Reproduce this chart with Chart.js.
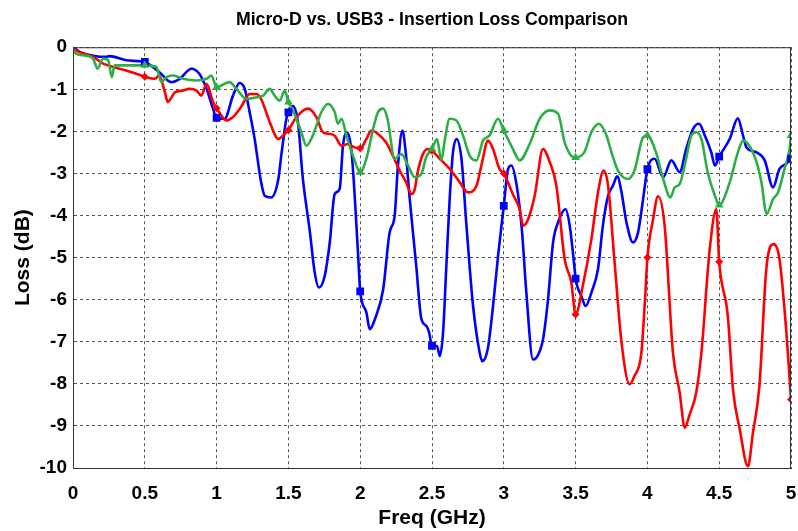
<!DOCTYPE html>
<html>
<head>
<meta charset="utf-8">
<script src="https://cdn.jsdelivr.net/npm/chart.js@4"></script>
<style>
  body { margin: 0; background: #fff; }
  #wrap { width: 798px; height: 531px; }
</style>
</head>
<body>
<div id="wrap"><canvas id="ctx"></canvas></div>
<script>
// blue trace (square markers)
const blueFreq = [0, 0.047, 0.14, 0.23, 0.255, 0.37, 0.45, 0.5, 0.6, 0.685, 0.743, 0.825, 0.88, 0.93, 0.975, 1.0,
  1.056, 1.114, 1.16, 1.196, 1.23, 1.265, 1.31, 1.335, 1.38, 1.43, 1.45, 1.486, 1.5, 1.53, 1.567, 1.6, 1.65, 1.683,
  1.713, 1.753, 1.788, 1.822, 1.857, 1.88, 1.904, 1.94, 1.985, 2.0, 2.043, 2.066, 2.11, 2.16, 2.205, 2.24, 2.263,
  2.294, 2.317, 2.345, 2.39, 2.426, 2.46, 2.48, 2.5, 2.535, 2.554, 2.577, 2.6, 2.623, 2.646, 2.67, 2.705, 2.74,
  2.786, 2.832, 2.85, 2.89, 2.925, 2.96, 3.0, 3.03, 3.053, 3.09, 3.125, 3.157, 3.203, 3.227, 3.273, 3.308, 3.343,
  3.378, 3.43, 3.459, 3.494, 3.5, 3.54, 3.57, 3.61, 3.656, 3.69, 3.726, 3.76, 3.79, 3.82, 3.854, 3.9, 3.935, 3.97,
  4.0, 4.05, 4.11, 4.167, 4.225, 4.27, 4.318, 4.36, 4.4, 4.445, 4.47, 4.5, 4.573, 4.63, 4.666, 4.69, 4.76, 4.817,
  4.875, 4.92, 4.968, 5.0];
const blueLoss = [0, -0.11, -0.2, -0.23, -0.21, -0.31, -0.33, -0.35, -0.59, -0.83, -0.75, -0.51, -0.63, -0.99, -1.46, -1.68,
  -1.7, -1.15, -0.85, -0.99, -1.54, -2.18, -3.21, -3.53, -3.57, -3.13, -2.58, -1.7, -1.55, -1.4, -1.8, -3.1, -4.4, -5.35,
  -5.71, -5.43, -4.64, -3.49, -3.37, -2.34, -2.02, -2.5, -4.9, -5.8, -6.3, -6.7, -6.39, -5.75, -4.4, -4.0, -2.81,
  -1.98, -2.5, -3.61, -5.19, -6.46, -6.62, -6.78, -7.1, -7.1, -7.34, -6.78, -5.19, -3.61, -2.5, -2.18, -2.65, -4.24,
  -6.15, -7.26, -7.46, -7.14, -6.15, -4.96, -3.77, -2.89, -2.81, -3.29, -4.3, -5.83, -7.42, -7.38, -6.94, -5.99, -4.64,
  -4.16, -3.85, -4.24, -5.3, -5.5, -5.91, -6.15, -5.83, -5.27, -4.24, -3.53, -3.29, -3.07, -3.45, -4.16, -4.64, -4.4, -3.61,
  -2.9, -2.65, -3.09, -2.69, -2.97, -2.42, -1.94, -1.82, -2.1, -2.5, -2.81, -2.6, -2.18, -1.69, -2.1, -2.38, -2.5, -2.69,
  -3.33, -2.89, -2.77, -2.65];

// red trace (diamond markers)
const redFreq = [0, 0.07, 0.14, 0.21, 0.28, 0.37, 0.44, 0.5, 0.57, 0.6, 0.64, 0.66, 0.71, 0.766, 0.81, 0.86, 0.894,
  0.93, 0.975, 1.0, 1.07, 1.114, 1.17, 1.23, 1.277, 1.31, 1.37, 1.43, 1.474, 1.5, 1.556, 1.637, 1.695, 1.74, 1.788,
  1.822, 1.87, 1.915, 1.96, 2.0, 2.043, 2.078, 2.124, 2.18, 2.228, 2.275, 2.32, 2.357, 2.38, 2.4, 2.437, 2.47, 2.5,
  2.554, 2.623, 2.693, 2.75, 2.81, 2.844, 2.89, 2.925, 2.97, 3.0, 3.064, 3.11, 3.134, 3.17, 3.215, 3.273, 3.32, 3.366,
  3.424, 3.47, 3.5, 3.55, 3.61, 3.656, 3.695, 3.726, 3.77, 3.82, 3.876, 3.91, 3.958, 3.985, 4.0, 4.04, 4.074, 4.12,
  4.178, 4.225, 4.26, 4.294, 4.34, 4.376, 4.434, 4.48, 4.5, 4.56, 4.596, 4.643, 4.7, 4.735, 4.78, 4.83, 4.88, 4.92,
  4.968, 5.0];
const redLoss = [-0.04, -0.15, -0.23, -0.39, -0.47, -0.55, -0.63, -0.7, -0.75, -0.67, -1.07, -1.3, -1.07, -1.03, -0.99, -1.03, -1.15,
  -0.87, -1.3, -1.45, -1.74, -1.66, -1.42, -1.11, -1.11, -1.23, -1.78, -2.18, -2.06, -1.97, -1.66, -1.46, -1.66, -2.02, -2.06,
  -2.1, -2.34, -2.3, -2.38, -2.4, -2.18, -1.98, -2.06, -2.26, -2.58, -2.93, -3.21, -3.49, -3.37, -2.97, -2.54, -2.42, -2.46,
  -2.65, -2.89, -3.21, -3.45, -3.29, -2.81, -2.22, -2.42, -2.89, -3.0, -3.5, -3.85, -4.24, -4.08, -3.53, -2.42, -2.73, -3.29,
  -5.04, -5.59, -6.35, -5.67, -4.56, -3.45, -2.93, -3.29, -5.04, -7.02, -8.01, -7.81, -7.26, -5.9, -5.0, -4.08, -3.54, -4.24,
  -7.26, -8.21, -9.04, -8.73, -8.21, -7.26, -4.8, -3.85, -5.1, -6.39, -8.13, -9.08, -9.96, -9.16, -8.05, -5.2, -4.68, -5.04,
  -6.78, -8.37];

// green trace (triangle markers)
const greenFreq = [0, 0.02, 0.09, 0.14, 0.17, 0.21, 0.245, 0.27, 0.29, 0.37, 0.5, 0.58, 0.615, 0.65, 0.7, 0.766, 0.86,
  0.93, 0.964, 1.0, 1.09, 1.138, 1.208, 1.277, 1.323, 1.37, 1.404, 1.44, 1.474, 1.5, 1.544, 1.59, 1.625, 1.67, 1.73,
  1.776, 1.822, 1.845, 1.87, 1.904, 1.95, 2.0, 2.043, 2.09, 2.124, 2.16, 2.19, 2.24, 2.287, 2.333, 2.38, 2.426, 2.46,
  2.5, 2.535, 2.565, 2.59, 2.623, 2.67, 2.716, 2.763, 2.81, 2.855, 2.9, 2.96, 3.0, 3.064, 3.11, 3.18, 3.25, 3.32, 3.378,
  3.424, 3.47, 3.5, 3.56, 3.61, 3.663, 3.715, 3.75, 3.795, 3.865, 3.91, 3.97, 4.0, 4.06, 4.11, 4.16, 4.19, 4.225, 4.27,
  4.306, 4.34, 4.376, 4.42, 4.47, 4.5, 4.573, 4.63, 4.666, 4.71, 4.76, 4.794, 4.83, 4.875, 4.91, 4.955, 4.99, 5.0];
const greenLoss = [-0.04, -0.15, -0.2, -0.27, -0.51, -0.27, -0.31, -0.71, -0.43, -0.43, -0.43, -0.47, -0.83, -0.71, -0.67, -0.75, -0.79,
  -0.75, -0.67, -0.95, -0.83, -0.99, -1.23, -1.19, -1.15, -0.99, -1.15, -1.27, -1.03, -1.3, -1.6, -2.02, -2.34, -2.1, -1.54,
  -1.35, -1.54, -1.82, -1.7, -2.1, -2.58, -2.97, -2.65, -1.94, -1.54, -1.46, -1.7, -2.65, -2.54, -2.81, -3.09, -3.01, -2.61,
  -2.42, -2.18, -2.69, -2.18, -1.7, -1.74, -2.1, -2.58, -2.69, -2.22, -2.1, -1.7, -1.98, -2.42, -2.69, -2.3, -1.7, -1.5, -1.58,
  -2.26, -2.58, -2.62, -2.5, -2.02, -1.82, -2.1, -2.5, -2.93, -3.13, -2.93, -2.14, -2.1, -2.5, -3.13, -3.57, -3.33, -3.25, -2.65,
  -2.1, -2.02, -2.18, -2.97, -3.53, -3.75, -3.21, -2.5, -2.22, -2.34, -2.73, -3.21, -3.96, -3.61, -3.45, -2.89, -2.42, -2.1];

// marker positions every 0.5 GHz
const markFreq = [0.5, 1, 1.5, 2, 2.5, 3, 3.5, 4, 4.5, 5];
const blueMarks = [-0.35, -1.68, -1.55, -5.8, -7.1, -3.77, -5.5, -2.9, -2.6, -2.65];
const redMarks = [-0.7, -1.45, -1.97, -2.4, -2.46, -3.0, -6.35, -5.0, -5.1, -8.37];
const greenMarks = [-0.43, -0.95, -1.3, -2.97, -2.42, -1.98, -2.62, -2.1, -3.75, -2.1];

const xTicks = [0, 0.5, 1, 1.5, 2, 2.5, 3, 3.5, 4, 4.5, 5];
const yTicks = [0, -1, -2, -3, -4, -5, -6, -7, -8, -9, -10];

const BLUE = '#0000ff';
const RED = '#ff0000';
const GREEN = 'rgb(45,175,70)';

function pairs(xs, ys) {
    return xs.map((x, i) => ({x: x, y: ys[i]}));
}

function lineSet(xs, ys, color) {
    return {
        data: pairs(xs, ys),
        borderColor: color,
        borderWidth: 2.6,
        pointRadius: 0,
        cubicInterpolationMode: 'monotone',
        fill: false,
    };
}

function markSet(ys, color, style, r) {
    return {
        data: pairs(markFreq, ys),
        showLine: false,
        pointStyle: style,
        pointRadius: r,
        pointBorderWidth: 0,
        backgroundColor: color,
        borderColor: color,
    };
}

// solid box round the plot area
const frame = {
    id: 'frame',
    afterDraw(chart) {
        const a = chart.chartArea;
        const c = chart.ctx;
        c.save();
        c.strokeStyle = '#333';
        c.lineWidth = 1;
        c.setLineDash([]);
        c.strokeRect(a.left + 0.5, a.top + 0.5, a.right - a.left - 1, a.bottom - a.top);
        c.restore();
    }
};

const fontFam = '"Liberation Sans", Arial, sans-serif';

const config = {
    type: 'line',
    data: {
        datasets: [
            markSet(greenMarks, GREEN, 'triangle', 5),
            markSet(redMarks, RED, 'rectRot', 4),
            markSet(blueMarks, BLUE, 'rect', 5.5),
            lineSet(greenFreq, greenLoss, GREEN),
            lineSet(redFreq, redLoss, RED),
            lineSet(blueFreq, blueLoss, BLUE),
        ]
    },
    options: {
        responsive: true,
        maintainAspectRatio: false,
        animation: false,
        layout: { padding: { left: 0, right: 7, top: 0, bottom: 0 } },
        plugins: {
            legend: { display: false },
            tooltip: { enabled: false },
            title: {
                display: true,
                fullSize: false,
                text: 'Micro-D vs. USB3 - Insertion Loss Comparison',
                color: '#000',
                font: { family: fontFam, size: 17.7, weight: 'bold' },
                padding: { top: 9, bottom: 17 },
            },
        },
        scales: {
            x: {
                type: 'linear',
                min: 0,
                max: 5,
                afterBuildTicks: (s) => { s.ticks = xTicks.map(v => ({value: v})); },
                afterFit: (s) => { s.height = 63; s.paddingLeft = 0; s.paddingRight = 0; },
                ticks: {
                    color: '#000',
                    font: { family: fontFam, size: 19, weight: 'bold' },
                    padding: 14,
                    maxRotation: 0,
                    callback: (v) => String(v),
                },
                grid: { color: '#555', drawTicks: false, lineWidth: 1 },
                border: { display: true, color: '#333', dash: [3, 3] },
                title: {
                    display: true,
                    text: 'Freq (GHz)',
                    color: '#000',
                    font: { family: fontFam, size: 21, weight: 'bold' },
                    padding: { top: 0, bottom: 0 },
                },
            },
            y: {
                type: 'linear',
                min: -10,
                max: 0,
                afterBuildTicks: (s) => { s.ticks = yTicks.map(v => ({value: v})); },
                afterFit: (s) => { s.width = 73; },
                ticks: {
                    color: '#000',
                    font: { family: fontFam, size: 19, weight: 'bold' },
                    padding: 6,
                    callback: (v) => String(v),
                },
                grid: { color: '#555', drawTicks: false, lineWidth: 1 },
                border: { display: true, color: '#333', dash: [3, 3] },
                title: {
                    display: true,
                    text: 'Loss (dB)',
                    color: '#000',
                    font: { family: fontFam, size: 21, weight: 'bold' },
                    padding: { top: 11, bottom: 0 },
                },
            },
        },
    },
    plugins: [frame],
};

const graphChart = new Chart(document.getElementById('ctx').getContext('2d'), config);
</script>
</body>
</html>
